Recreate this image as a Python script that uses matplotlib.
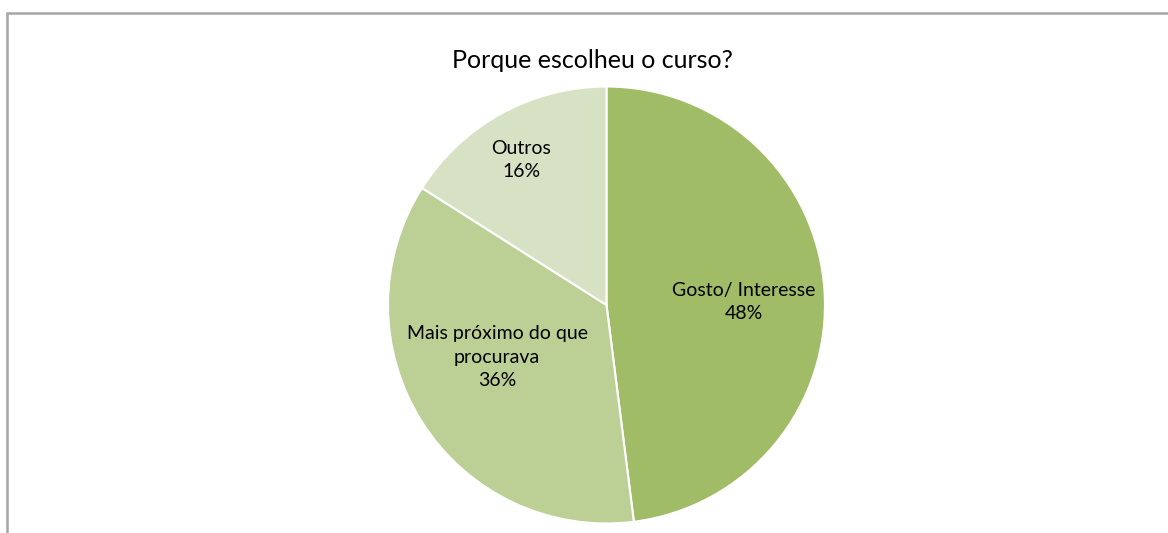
import matplotlib
matplotlib.use('Agg')
from matplotlib import pyplot as plt
from matplotlib.patches import Rectangle
import numpy as np

# data
labels = ['Gosto/ Interesse', 'Mais próximo do que\nprocurava', 'Outros']
values = [48, 36, 16]
colors = ['#A0BC66', '#BCD096', '#D7E2C5']
# label placement: radial fraction and angle nudge (deg) from slice middle
label_r = [0.63, 0.555, 0.77]
label_shift = [-2.3, -6.9, 1.6]

plt.rcParams['font.family'] = ['Lato', 'DejaVu Sans']

fig = plt.figure(figsize=(11.68, 5.33), dpi=100)
fig.patch.set_facecolor('white')

# outer chart border (top & left visible, rest cropped)
fig.patches.append(Rectangle((7 / 1168, -0.1), 1.2, 1 - 13 / 533 + 0.1,
                             transform=fig.transFigure, fill=False,
                             edgecolor='#A6A6A6', linewidth=1.8))

ax = fig.add_axes([0.3322, 0.0178, 0.3741, 0.8199])
wedges, _ = ax.pie(values, colors=colors, startangle=90, counterclock=False,
                   radius=1, wedgeprops=dict(edgecolor='white', linewidth=1.5))
ax.set_xlim(-1, 1)
ax.set_ylim(-1, 1)
ax.set_aspect('equal')
ax.axis('off')

for w, lab, v, r, s in zip(wedges, labels, values, label_r, label_shift):
    ang = np.deg2rad((w.theta1 + w.theta2) / 2 + s)
    ax.text(r * np.cos(ang), r * np.sin(ang), '%s\n%d%%' % (lab, v),
            ha='center', va='center', fontsize=14, color='black',
            linespacing=1.45)

fig.text(592 / 1168, 1 - 60 / 533, 'Porque escolheu o curso?', ha='center',
         va='center', fontsize=18, color='black')

fig.savefig('out.png', dpi=100)
